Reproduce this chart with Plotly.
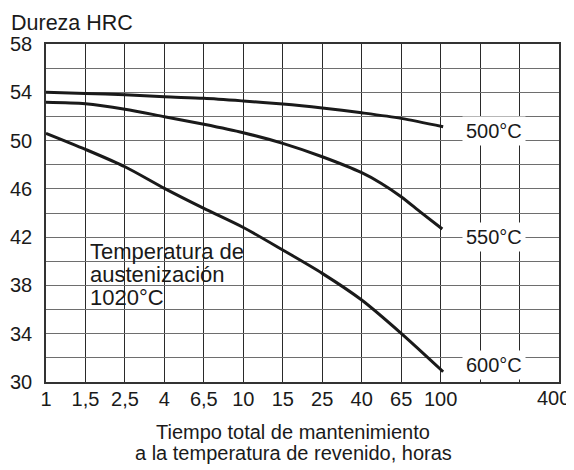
import plotly.graph_objects as go

# Data (hours on a log scale, 5 grid steps per decade)
hours = [1, 1.585, 2.512, 3.981, 6.310, 10, 15.85, 25.12, 39.81, 63.10, 103]
hrc_500 = [54.0, 53.9, 53.8, 53.63, 53.5, 53.28, 53.03, 52.7, 52.3, 51.84, 51.15]
hours_550 = [1, 1.585, 2.512, 3.981, 6.310, 10, 15.85, 25.12, 39.81, 50.1, 63.10, 79.4, 102]
hrc_550 = [53.17, 53.05, 52.6, 51.98, 51.35, 50.65, 49.77, 48.66, 47.34, 46.45, 45.35, 44.05, 42.67]
hrc_600 = [50.6, 49.27, 47.83, 46.04, 44.38, 42.8, 40.93, 39.0, 36.79, 34.03, 30.85]

x_tickvals = [1, 1.585, 2.512, 3.981, 6.310, 10, 15.85, 25.12, 39.81, 63.10, 100, 158.5, 251.2, 398.1]
x_ticktext = ["1", "1,5", "2,5", "4", "6,5", "10", "15", "25", "40", "65", "100", "", "", ""]
last_tick_label = "400"
y_tickvals = list(range(30, 59, 2))
y_ticktext = [str(v) if (v - 30) % 4 == 0 else "" for v in y_tickvals]

series_labels = ["500°C", "550°C", "600°C"]
FONT = "Liberation Sans, Arial, sans-serif"
INK = "#1a1a1a"

fig = go.Figure()
for xs, ys in [(hours, hrc_500), (hours_550, hrc_550), (hours, hrc_600)]:
    fig.add_trace(go.Scatter(x=xs, y=ys, mode="lines",
                             line=dict(color=INK, width=3, shape="spline", smoothing=0.8),
                             showlegend=False, hoverinfo="skip", cliponaxis=False))

# page body has an 8px margin, so the figure is drawn 8px smaller
fig.update_layout(
    width=566, height=462,
    margin=dict(l=38, r=15, t=36, b=88, autoexpand=False),
    paper_bgcolor="white", plot_bgcolor="white",
    font=dict(family=FONT, size=20, color=INK),
    showlegend=False,
)
fig.update_xaxes(type="log", range=[0, 2.6], tickvals=x_tickvals, ticktext=x_ticktext,
                 showgrid=True, gridcolor="#2a2a2a", gridwidth=1.3,
                 showline=True, linecolor="#333333", linewidth=1.5, mirror=True,
                 ticks="", ticklabelstandoff=-2, zeroline=False,
                 automargin=False, ticklabeloverflow="allow")
fig.update_yaxes(range=[30, 58], tickvals=y_tickvals, ticktext=y_ticktext,
                 showgrid=True, gridcolor="#6e6e6e", gridwidth=1.3,
                 showline=True, linecolor="#333333", linewidth=1.5, mirror=True,
                 ticks="", ticklabelstandoff=8, zeroline=False,
                 automargin=False, ticklabeloverflow="allow")

# last x tick label, nudged left to stay inside the picture
fig.add_annotation(text=last_tick_label, xref="paper", yref="paper",
                   x=(553 - 46) / 513, y=(382 - 398) / 338,
                   xanchor="center", yanchor="middle", showarrow=False,
                   font=dict(size=20, family=FONT, color=INK))

# White box behind the austenitization note
fig.add_shape(type="rect", xref="paper", yref="paper",
              x0=(84 - 46) / 513, x1=(243 - 46) / 513,
              y0=(382 - 309) / 338, y1=(382 - 237) / 338,
              fillcolor="white", line=dict(width=0), layer="between")

note_lines = ["Temperatura de", "austenización", "1020°C"]
for i, t in enumerate(note_lines):
    fig.add_annotation(text=t, xref="paper", yref="paper",
                       x=(88 - 46) / 513, y=(382 - (251 + 23 * i)) / 338,
                       xanchor="left", yanchor="middle", showarrow=False,
                       font=dict(size=22, family=FONT, color=INK))

# Series labels at the right
label_y = [131, 237, 365]
for lab, py in zip(series_labels, label_y):
    fig.add_annotation(text=lab, xref="paper", yref="paper",
                       x=(494 - 46) / 513, y=(382 - py) / 338,
                       xanchor="center", yanchor="middle", showarrow=False,
                       bgcolor="white", borderpad=3,
                       font=dict(size=20, family=FONT, color=INK))

# Axis titles
fig.add_annotation(text="Dureza HRC", xref="paper", yref="paper",
                   x=(9 - 46) / 513, y=(382 - 23) / 338,
                   xanchor="left", yanchor="middle", showarrow=False,
                   font=dict(size=21.5, family=FONT, color=INK))
for t, py in [("Tiempo total de mantenimiento", 432), ("a la temperatura de revenido, horas", 453)]:
    fig.add_annotation(text=t, xref="paper", yref="paper",
                       x=(293 - 46) / 513, y=(382 - py) / 338,
                       xanchor="center", yanchor="middle", showarrow=False,
                       font=dict(size=20, family=FONT, color=INK))

fig.write_html("out.html")
